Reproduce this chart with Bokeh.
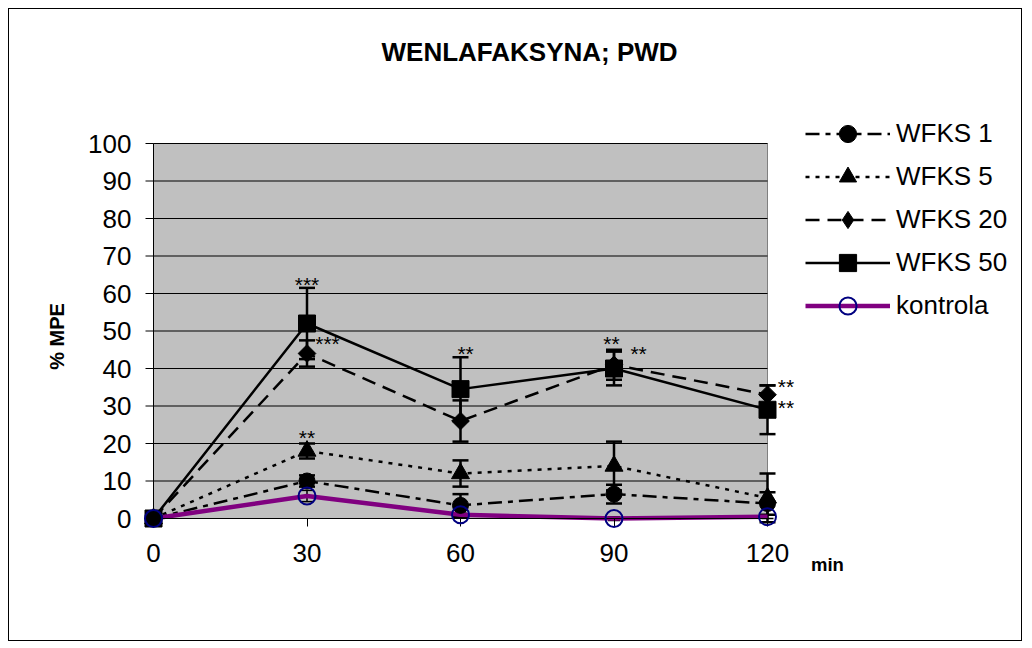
import math
from bokeh.plotting import figure
from bokeh.models import (ColumnDataSource, Legend, LegendItem, Whisker, TeeHead,
                          FixedTicker, Range1d)
from bokeh.core.properties import value
from bokeh.embed import file_html
from bokeh.resources import INLINE

# ---- data ----
minutes = [0, 30, 60, 90, 120]
wfks1 = [0, 10, 3.5, 6.5, 4]
wfks1_err = [0, 1.5, 3.0, 2.5, 3.0]
wfks5 = [0, 18, 12, 14, 5.5]
wfks5_err = [0, 2.0, 3.5, 6.5, 6.5]
wfks20 = [0, 44, 26, 41, 33]
wfks20_err = [0, 3.5, 5.5, 4.0, 2.5]
wfks50 = [0, 52, 34.5, 40, 29]
wfks50_err = [0, 9.5, 8.5, 4.5, 6.5]
kontrola = [0, 6, 1, 0, 0.5]
kontrola_err = [0, 1.5, 0.5, 0.5, 0.5]

star_x = [30, 34.0, 30, 61, 89.5, 94.8, 123.6, 123.6]
star_y = [62.7, 47.0, 21.9, 44.3, 47.2, 44.3, 35.7, 30.1]
star_text = ["***", "***", "**", "**", "**", "**", "**", "**"]

y_ticks = [0, 10, 20, 30, 40, 50, 60, 70, 80, 90, 100]
x_ticks = [0, 30, 60, 90, 120]
X_MAX, Y_MAX = 120, 100

FONT = "Liberation Sans"

# plot-area geometry (pixels)
PX_PER_X = 614 / 120
PX_PER_Y = 375 / 100
X0_PX, Y0_PX = 153, 518                     # page position of (0, 0)
FR_LEFT, FR_RIGHT, FR_TOP, FR_BOTTOM = 140, 1023, 92, 580   # page px
OFF = 9  # figure origin on page (margin 8 + border 1)
W, H = 1014, 633

x_start = -(X0_PX - FR_LEFT) / PX_PER_X
x_end = (FR_RIGHT - X0_PX) / PX_PER_X
y_start = -(FR_BOTTOM - Y0_PX) / PX_PER_Y
y_end = (Y0_PX - FR_TOP) / PX_PER_Y
tick_len_x = 8 / PX_PER_X
star_shift = 1.5 / PX_PER_Y

p = figure(width=W, height=H, output_backend="svg", toolbar_location=None,
           x_range=Range1d(x_start, x_end), y_range=Range1d(y_start, y_end),
           min_border_left=FR_LEFT - OFF, min_border_right=W - (FR_RIGHT - OFF),
           min_border_top=FR_TOP - OFF, min_border_bottom=H - (FR_BOTTOM - OFF),
           title="WENLAFAKSYNA; PWD")
p.margin = (8, 0, 0, 8)
p.styles = {"border": "1px solid black"}

p.title.text_font = FONT
p.title.text_font_size = "26px"
p.title.text_font_style = "bold"
p.title.text_color = "black"
p.title.align = "left"
p.title.offset = 381 - FR_LEFT
p.title.standoff = 51

p.background_fill_color = "white"
p.border_fill_color = "white"
p.outline_line_color = None
p.xgrid.visible = False
p.ygrid.visible = False

# gray plot area and horizontal gridlines
p.quad(left=[0], right=[X_MAX], bottom=[0], top=[Y_MAX], fill_color="#C0C0C0",
       line_color="#808080", line_width=1, level="underlay")
grid_y = [t for t in y_ticks if t > 0]
p.segment(x0=[0] * len(grid_y), x1=[X_MAX] * len(grid_y), y0=grid_y, y1=grid_y,
          line_color="black", line_width=1, level="underlay")
# value axis line and its tick marks at x = 0
p.segment(x0=[0], x1=[0], y0=[0], y1=[Y_MAX], line_color="black", line_width=1, level="underlay")
p.segment(x0=[-tick_len_x] * len(y_ticks), x1=[0] * len(y_ticks), y0=y_ticks, y1=y_ticks,
          line_color="black", line_width=1, level="underlay")

p.yaxis.ticker = FixedTicker(ticks=y_ticks)
p.xaxis.ticker = FixedTicker(ticks=x_ticks)
p.yaxis.bounds = (0, Y_MAX)
p.xaxis.bounds = (0, X_MAX)
p.xaxis.fixed_location = 0
for ax in (p.xaxis[0], p.yaxis[0]):
    ax.major_label_text_font = FONT
    ax.major_label_text_font_size = "26px"
    ax.major_label_text_color = "black"
    ax.minor_tick_line_color = None
    ax.major_tick_in = 0
p.xaxis.axis_line_color = "black"
p.xaxis.major_tick_line_color = "black"
p.xaxis.major_tick_out = 8
p.xaxis.major_label_standoff = 17
p.yaxis.axis_line_color = None
p.yaxis.major_tick_line_color = None
p.yaxis.major_tick_out = 0
p.yaxis.major_label_standoff = 9
p.yaxis.axis_label = "% MPE"
p.yaxis.axis_label_text_font = FONT
p.yaxis.axis_label_text_font_size = "20px"
p.yaxis.axis_label_text_font_style = "bold"
p.yaxis.axis_label_text_color = "black"
p.yaxis.axis_label_standoff = 17


def lo(v, e):
    return [a - b for a, b in zip(v, e)]


def hi(v, e):
    return [a + b for a, b in zip(v, e)]


src = ColumnDataSource(dict(
    x=minutes,
    w1=wfks1, w1l=lo(wfks1, wfks1_err), w1u=hi(wfks1, wfks1_err),
    w5=wfks5, w5l=lo(wfks5, wfks5_err), w5u=hi(wfks5, wfks5_err),
    w20=wfks20, w20l=lo(wfks20, wfks20_err), w20u=hi(wfks20, wfks20_err),
    w50=wfks50, w50l=lo(wfks50, wfks50_err), w50u=hi(wfks50, wfks50_err),
    k=kontrola, kl=lo(kontrola, kontrola_err), ku=hi(kontrola, kontrola_err)))

series = [
    ("WFKS 1", "w1", "circle", "14 6 5 6", 16, 0, "circle"),
    ("WFKS 5", "w5", "triangle", "4 6", 18, 0, "triangle"),
    ("WFKS 20", "w20", "square", "14 8", 12.5, math.pi / 4, "diamond"),
    ("WFKS 50", "w50", "square", "solid", 17, 0, "square"),
]
items = []
for name, col, marker, dash, size, ang, leg_marker in series:
    ln = p.line("x", col, source=src, line_color="black", line_width=2.5, line_dash=dash)
    wh = Whisker(base="x", lower=col + "l", upper=col + "u", source=src,
                 line_color="black", line_width=2.5,
                 upper_head=TeeHead(size=16, line_width=2.5, line_color="black"),
                 lower_head=TeeHead(size=16, line_width=2.5, line_color="black"))
    p.add_layout(wh)
    leg = None
    if leg_marker != marker:
        # diamond used for the legend; fully covered by the plotted marker below
        leg = p.scatter("x", col, source=src, marker=leg_marker, size=16,
                        fill_color="black", line_color="black", level="overlay")
    sc = p.scatter("x", col, source=src, marker=marker, size=size, angle=ang,
                   fill_color="black", line_color="black", level="overlay")
    items.append(LegendItem(label=name, renderers=[ln, leg if leg is not None else sc]))

lk = p.line("x", "k", source=src, line_color="#800080", line_width=4.5)
whk = Whisker(base="x", lower="kl", upper="ku", source=src,
              line_color="black", line_width=1.5,
              upper_head=TeeHead(size=12, line_width=1.5, line_color="black"),
              lower_head=TeeHead(size=12, line_width=1.5, line_color="black"))
p.add_layout(whk)
sk = p.scatter("x", "k", source=src, marker="circle", size=17, fill_color=None,
               line_color="#000080", line_width=2, level="overlay")
items.append(LegendItem(label="kontrola", renderers=[lk, sk]))

stars = ColumnDataSource(dict(x=star_x, y=[v - star_shift for v in star_y], t=star_text))
p.text(x="x", y="y", text="t", source=stars, text_font=value(FONT),
       text_font_size="21px", text_align="center", text_baseline="middle",
       text_color="black", level="overlay")

p.text(x=[128.5], y=[-12.2], text=["min"], text_font=value(FONT), text_font_size="18.5px",
       text_font_style="bold", text_baseline="middle", text_align="left",
       text_color="black", level="overlay")

legend = Legend(items=items, location=(805 - FR_LEFT, FR_BOTTOM - 327), orientation="vertical",
                label_text_font=FONT, label_text_font_size="26px", label_text_color="black",
                glyph_width=85, glyph_height=43, label_height=43, spacing=0,
                padding=0, margin=0, border_line_color=None, background_fill_alpha=0,
                label_standoff=6)
p.add_layout(legend, "center")

open("out.html", "w").write(file_html(p, INLINE))
